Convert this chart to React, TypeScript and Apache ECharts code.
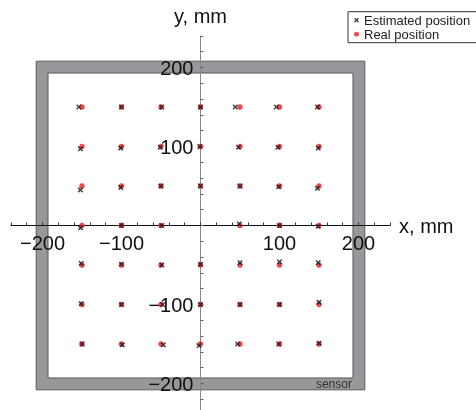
import React, { useEffect, useRef } from "react";
import * as echarts from "echarts";

const X_AXIS_NAME = "x, mm";
const Y_AXIS_NAME = "y, mm";
const AXIS_MIN = -240;
const AXIS_MAX = 240;
const TICK_STEP = 20;
const LABEL_STEP = 100;
const FRAME_OUTER = 208;
const FRAME_INNER = 193;
const FRAME_LABEL = "sensor";
const FRAME_LABEL_Y = -200.5;

const realPoints: [number, number][] = [
  [-150, 150], [-100, 150], [-50, 150], [0, 150], [50, 150], [100, 150], [150, 150],
  [-150, 100], [-100, 100], [-50, 100], [0, 100], [50, 100], [100, 100], [150, 100],
  [-150, 50], [-100, 50], [-50, 50], [0, 50], [50, 50], [100, 50], [150, 50],
  [-150, 0], [-100, 0], [-50, 0], [50, 0], [100, 0], [150, 0],
  [-150, -50], [-100, -50], [-50, -50], [0, -50], [50, -50], [100, -50], [150, -50],
  [-150, -100], [-100, -100], [-50, -100], [0, -100], [50, -100], [100, -100], [150, -100],
  [-150, -150], [-100, -150], [-50, -150], [0, -150], [50, -150], [100, -150], [150, -150],
];

const estimatedPoints: [number, number][] = [
  [-154, 150], [-100, 150], [-49, 150], [0, 150], [44, 150], [96, 150], [148, 150],
  [-152, 97], [-101, 98], [-51, 99], [-1, 100], [48, 99], [98, 99], [149, 98],
  [-152, 45], [-101, 48], [-50, 50], [0, 50], [50, 50], [99, 49], [148, 47],
  [-152, -3], [-100, 0], [-49, 0], [49, 2], [100, 0], [149, -1],
  [-151, -48], [-100, -49], [-49, -50], [0, -49], [50, -47], [100, -46], [149, -47],
  [-151, -99], [-100, -100], [-48, -100], [0, -100], [50, -100], [100, -100], [150, -97],
  [-150, -150], [-99, -151], [-47, -151], [-2, -152], [47, -150], [99, -150], [150, -149],
];

const SERIES_NAMES = ["Estimated position", "Real position"];

const FONT = "Liberation Sans";
const CROSS =
  "path://M0,2L2,0L5,3L8,0L10,2L7,5L10,8L8,10L5,7L2,10L0,8L3,5Z";

const GRID_LEFT = 10.9;
const GRID_TOP = 35.9;
const GRID_SIZE = 379.2;
const HALF = GRID_SIZE / 2;

const fmt = (v: number) =>
  v === 0 || v % LABEL_STEP !== 0 ? "" : String(v).replace("-", "\u2212");

export default function App() {
  const ref = useRef<HTMLDivElement>(null);
  useEffect(() => {
    const chart = echarts.init(ref.current!, null, { renderer: "svg" });
    const labelStyle = {
      formatter: fmt,
      fontSize: 20,
      fontFamily: FONT,
      color: "#111",
      interval: 0,
      hideOverlap: false,
      margin: 7,
    };
    const axisCommon = {
      type: "value",
      min: AXIS_MIN,
      max: AXIS_MAX,
      interval: TICK_STEP,
      z: 10,
      splitLine: { show: false },
      nameTextStyle: { fontSize: 20, fontFamily: FONT, color: "#111" },
    };
    chart.setOption({
      animation: false,
      textStyle: { fontFamily: FONT },
      grid: {
        left: GRID_LEFT,
        top: GRID_TOP,
        width: GRID_SIZE,
        height: GRID_SIZE,
        containLabel: false,
        outerBoundsMode: "none",
      },
      legend: {
        data: SERIES_NAMES,
        orient: "vertical",
        left: 348,
        top: 11.7,
        padding: [2, 12, 2, 6],
        itemGap: 1,
        itemWidth: 5,
        itemHeight: 5,
        borderColor: "#333",
        borderWidth: 1,
        backgroundColor: "#fff",
        textStyle: { fontSize: 13, lineHeight: 12.5, color: "#222", fontFamily: FONT },
      },
      xAxis: {
        ...axisCommon,
        name: X_AXIS_NAME,
        nameLocation: "end",
        nameGap: 9,
        position: "bottom",
        offset: -HALF,
        axisLine: { onZero: false, lineStyle: { color: "#111", width: 1 } },
        axisTick: { show: true, inside: true, length: 3, interval: 0, lineStyle: { color: "#333" } },
        axisLabel: labelStyle,
      },
      yAxis: {
        ...axisCommon,
        name: Y_AXIS_NAME,
        nameLocation: "end",
        nameGap: 10,
        position: "left",
        offset: -HALF,
        axisLine: { onZero: false, lineStyle: { color: "#888", width: 1 } },
        axisTick: { show: true, inside: true, length: 3, interval: 0, lineStyle: { color: "#666" } },
        axisLabel: labelStyle,
      },
      series: [
        {
          type: "custom",
          z: 1,
          silent: true,
          data: [[0, 0]],
          renderItem: (_params: any, api: any) => {
            const oTL = api.coord([-FRAME_OUTER, FRAME_OUTER]);
            const oBR = api.coord([FRAME_OUTER, -FRAME_OUTER]);
            const iTL = api.coord([-FRAME_INNER, FRAME_INNER]);
            const iBR = api.coord([FRAME_INNER, -FRAME_INNER]);
            const lab = api.coord([FRAME_INNER, FRAME_LABEL_Y]);
            return {
              type: "group",
              children: [
                {
                  type: "rect",
                  shape: { x: oTL[0], y: oTL[1], width: oBR[0] - oTL[0], height: oBR[1] - oTL[1] },
                  style: { fill: "#97989b", stroke: "#5a5a5c", lineWidth: 1 },
                },
                {
                  type: "rect",
                  shape: { x: iTL[0], y: iTL[1], width: iBR[0] - iTL[0], height: iBR[1] - iTL[1] },
                  style: { fill: "#ffffff", stroke: "#5a5a5c", lineWidth: 1 },
                },
                {
                  type: "text",
                  style: {
                    text: FRAME_LABEL,
                    x: lab[0] - 1,
                    y: lab[1],
                    align: "right",
                    verticalAlign: "middle",
                    fill: "#333",
                    font: `12px "${FONT}"`,
                  },
                },
              ],
            };
          },
        },
        {
          name: SERIES_NAMES[1],
          type: "scatter",
          z: 20,
          data: realPoints,
          symbol: "circle",
          symbolSize: 5.5,
          itemStyle: { color: "#ec1c24" },
        },
        {
          name: SERIES_NAMES[0],
          type: "scatter",
          z: 21,
          data: estimatedPoints,
          symbol: CROSS,
          symbolSize: 5.5,
          itemStyle: { color: "#1a1a1a" },
        },
      ],
    });
    return () => chart.dispose();
  }, []);
  return (
    <div
      ref={ref}
      style={{ position: "fixed", left: 0, top: 0, width: 476, height: 410 }}
    />
  );
}
